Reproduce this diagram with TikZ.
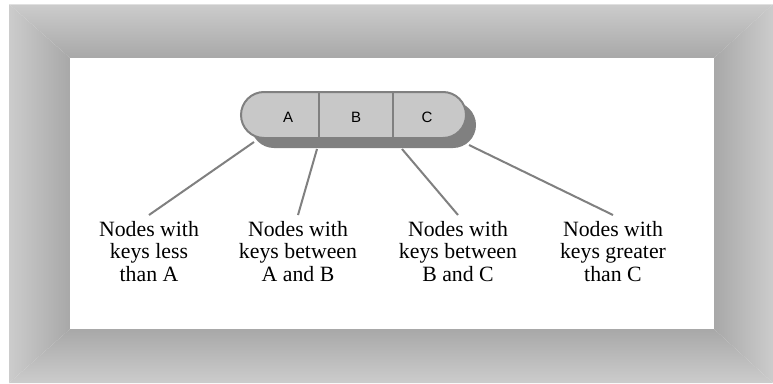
\documentclass[tikz,border=0pt]{standalone}
\usepackage{fontspec}
\setmainfont{Liberation Serif}
\newfontfamily\keyfont{Liberation Sans}
\usetikzlibrary{shadows}
\definecolor{framelight}{RGB}{204,204,204}
\definecolor{framedark}{RGB}{168,168,168}
\definecolor{keyfill}{RGB}{200,200,200}
\definecolor{keyedge}{RGB}{128,128,128}

\begin{document}
\begin{tikzpicture}[
  x=1pt,y=-1pt,
  keybox/.style={draw=keyedge,fill=keyfill,line width=2pt,rounded corners=23pt,minimum width=225pt,minimum height=46pt,
    drop shadow={shadow xshift=10pt,shadow yshift=-10pt,fill=keyedge,opacity=1}},
  keytext/.style={font=\keyfont\fontsize{15}{17}\selectfont,inner sep=0pt},
  label/.style={anchor=north,align=center,inner xsep=0pt,inner ysep=6pt,font=\fontsize{21.8}{22.5}\selectfont},
  conn/.style={draw=keyedge,line width=2pt},
]
\useasboundingbox (0,0) rectangle (773,383);

% frame
\shade[top color=framelight,bottom color=framedark] (9,4) -- (773,4) -- (714,58) -- (70,58) -- cycle;
\shade[left color=framelight,right color=framedark] (9,4) -- (70,58) -- (70,329) -- (9,383) -- cycle;
\shade[left color=framedark,right color=framelight] (773,4) -- (714,58) -- (714,329) -- (773,383) -- cycle;
\shade[top color=framedark,bottom color=framelight] (70,329) -- (714,329) -- (773,383) -- (9,383) -- cycle;
\draw[white!88!black,line width=1pt] (9,4.5) -- (773,4.5);
\fill[white] (70,58) rectangle (714,329);

% connector ends under the node
\coordinate (u1) at (254,142);
\coordinate (u2) at (317,149);
\coordinate (u3) at (402,149);
\coordinate (u4) at (469,145);

% key node
\node[keybox] (key) at (353.5,115) {};
\node[keytext] (ka) at (288,117) {A};
\node[keytext] (kb) at (356,117) {B};
\node[keytext] (kc) at (427,117) {C};
\coordinate (d1) at (319,0);
\coordinate (d2) at (393,0);
\draw[keyedge,line width=2pt] (key.north -| d1) -- (key.south -| d1);
\draw[keyedge,line width=2pt] (key.north -| d2) -- (key.south -| d2);

% labels
\node[label] (less) at (149,215) {Nodes with\\keys less\\than A};
\node[label] (ab) at (298,215) {Nodes with\\keys between\\A and B};
\node[label] (bc) at (458,215) {Nodes with\\keys between\\B and C};
\node[label] (greater) at (613,215) {Nodes with\\keys greater\\than C};

% edges
\draw[conn] (u1) -- (less.north);
\draw[conn] (u2) -- (ab.north);
\draw[conn] (u3) -- (bc.north);
\draw[conn] (u4) -- (greater.north);

\end{tikzpicture}
\end{document}
